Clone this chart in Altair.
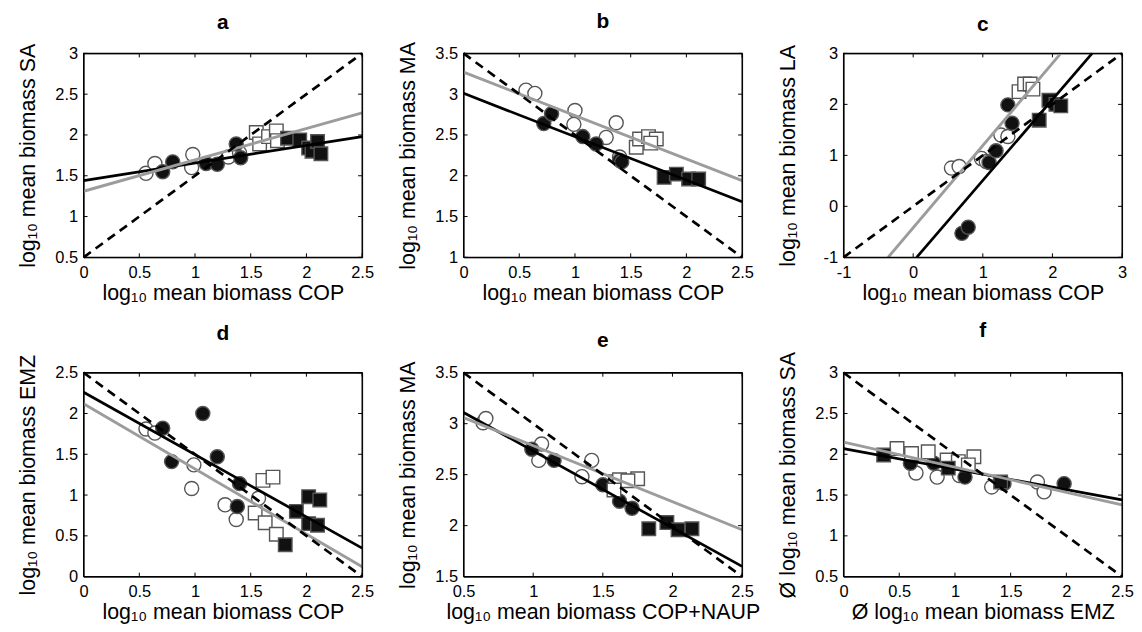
import altair as alt
import pandas as pd

FONT = "Liberation Sans"

# ---------------- data ----------------
# each marker series: (x values, y values)
A_OPEN_CIRCLES = ([0.56, 0.64, 0.98, 0.97, 1.30, 1.40], [1.53, 1.65, 1.76, 1.60, 1.73, 1.78])
A_FILLED_CIRCLES = ([0.71, 0.80, 1.10, 1.20, 1.37, 1.41], [1.55, 1.67, 1.65, 1.64, 1.89, 1.72])
A_OPEN_SQUARES = ([1.55, 1.58, 1.66, 1.73, 1.74], [2.03, 1.89, 1.98, 2.05, 1.93])
A_FILLED_SQUARES = ([1.83, 1.94, 2.02, 2.05, 2.10, 2.13], [1.96, 1.94, 1.84, 1.80, 1.92, 1.77])
A_BLACK = ([0.0, 2.5], [1.44, 1.98])
A_GRAY = ([0.0, 2.5], [1.31, 2.27])
A_DASHED = ([0.0, 2.5], [0.5, 3.0])

B_OPEN_CIRCLES = ([0.56, 0.64, 1.00, 0.99, 1.28, 1.37, 1.40], [3.05, 3.01, 2.80, 2.63, 2.47, 2.65, 2.23])
B_FILLED_CIRCLES = ([0.72, 0.79, 1.07, 1.19, 1.40, 1.42], [2.64, 2.76, 2.48, 2.39, 2.19, 2.17])
B_OPEN_SQUARES = ([1.55, 1.58, 1.66, 1.73, 1.68], [2.35, 2.45, 2.48, 2.45, 2.40])
B_FILLED_SQUARES = ([1.80, 1.91, 2.02, 2.11], [1.98, 2.02, 1.96, 1.96])
B_BLACK = ([0.0, 2.5], [3.01, 1.68])
B_GRAY = ([0.0, 2.5], [3.27, 1.94])
B_DASHED = ([0.0, 2.5], [3.5, 1.0])

C_OPEN_CIRCLES = ([0.55, 0.66, 0.98, 1.05, 1.26, 1.36], [0.75, 0.78, 0.94, 0.88, 1.40, 1.37])
C_FILLED_CIRCLES = ([0.70, 0.79, 1.09, 1.19, 1.36, 1.42], [-0.53, -0.41, 0.86, 1.09, 1.99, 1.63])
C_OPEN_SQUARES = ([1.52, 1.60, 1.68, 1.72], [2.25, 2.40, 2.40, 2.30])
C_FILLED_SQUARES = ([1.81, 1.95, 2.05, 2.12], [1.69, 2.08, 2.00, 1.97])
C_BLACK = ([0.05, 2.57], [-1.0, 3.0])
C_GRAY = ([-0.36, 2.12], [-1.0, 3.0])
C_DASHED = ([-1.0, 3.0], [-1.0, 3.0])

D_OPEN_CIRCLES = ([0.56, 0.64, 0.99, 0.97, 1.27, 1.37, 1.57], [1.81, 1.76, 1.37, 1.08, 0.88, 0.70, 0.96])
D_FILLED_CIRCLES = ([0.71, 0.79, 1.07, 1.20, 1.40, 1.38], [1.82, 1.41, 2.00, 1.47, 1.14, 0.86])
D_OPEN_SQUARES = ([1.61, 1.70, 1.54, 1.63, 1.73], [1.18, 1.22, 0.78, 0.66, 0.52])
D_FILLED_SQUARES = ([1.91, 2.02, 2.12, 2.02, 2.10, 1.81], [0.80, 0.98, 0.94, 0.65, 0.63, 0.39])
D_BLACK = ([0.0, 2.5], [2.26, 0.35])
D_GRAY = ([0.0, 2.5], [2.12, 0.12])
D_DASHED = ([0.0, 2.5], [2.5, 0.0])

E_OPEN_CIRCLES = ([0.64, 0.66, 1.06, 1.04, 1.35, 1.42], [3.01, 3.05, 2.80, 2.64, 2.48, 2.64])
E_FILLED_CIRCLES = ([0.99, 1.15, 1.50, 1.62, 1.71], [2.75, 2.64, 2.40, 2.24, 2.17])
E_OPEN_SQUARES = ([1.59, 1.62, 1.75, 1.58, 1.68], [2.43, 2.45, 2.46, 2.35, 2.44])
E_FILLED_SQUARES = ([1.83, 1.96, 2.04, 2.14], [1.97, 2.03, 1.96, 1.97])
E_BLACK = ([0.5, 2.5], [3.11, 1.60])
E_GRAY = ([0.5, 2.5], [3.06, 1.96])
E_DASHED = ([0.5, 2.5], [3.5, 1.5])

F_OPEN_CIRCLES = ([0.65, 0.84, 1.04, 1.33, 1.74, 1.80], [1.77, 1.72, 1.74, 1.60, 1.66, 1.54])
F_FILLED_CIRCLES = ([0.60, 0.81, 1.09, 1.44, 1.98], [1.89, 1.89, 1.72, 1.64, 1.64])
F_OPEN_SQUARES = ([0.48, 0.61, 0.76, 0.93, 1.03, 1.17, 1.12], [2.07, 2.01, 2.03, 1.93, 1.91, 1.97, 1.87])
F_FILLED_SQUARES = ([0.36, 0.94, 1.41], [1.99, 1.83, 1.66])
F_BLACK = ([0.0, 2.5], [2.07, 1.44])
F_GRAY = ([0.0, 2.5], [2.15, 1.38])
F_DASHED = ([0.0, 2.5], [3.0, 0.5])

TICKS_0_25 = [0, 0.5, 1, 1.5, 2, 2.5]
TICKS_05_3 = [0.5, 1, 1.5, 2, 2.5, 3]
TICKS_1_35 = [1, 1.5, 2, 2.5, 3, 3.5]
TICKS_M1_3 = [-1, 0, 1, 2, 3]
TICKS_05_25 = [0.5, 1, 1.5, 2, 2.5]
TICKS_15_35 = [1.5, 2, 2.5, 3, 3.5]

W, H = 280, 205
TICK_PX = 4


def df(series):
    return pd.DataFrame({"x": series[0], "y": series[1]})


def panel(letter, xdom, ydom, xticks, yticks, xtitle, ytitle,
          oc, fc, os_, fs, black, gray, dashed):
    xs = alt.Scale(domain=xdom, nice=False, zero=False)
    ys = alt.Scale(domain=ydom, nice=False, zero=False)
    common = dict(grid=False, domain=False, ticks=False, tickSize=0,
                  labelFontSize=16.5, labelFont=FONT,
                  labelColor="black", titleFont=FONT, titleFontSize=21.5,
                  titleFontWeight="normal", titleColor="black",
                  labelExpr="datum.value + ''", labelFlush=False, labelOverlap=False)
    xa = alt.Axis(values=xticks, title=xtitle, labelPadding=7, titlePadding=2, **common)
    ya = alt.Axis(values=yticks, title=ytitle, labelPadding=6, titlePadding=15,
                  minExtent=29, maxExtent=29, **common)
    X = alt.X("x:Q", scale=xs, axis=xa)
    Y = alt.Y("y:Q", scale=ys, axis=ya)

    def pts(series, shape, fill, size):
        return alt.Chart(df(series)).mark_point(
            shape=shape, filled=True, fill=fill, stroke="#555555", strokeWidth=1.4,
            size=size, opacity=1).encode(x=X, y=Y)

    def line(series, color, dash=None, width=2.7):
        kw = dict(color=color, strokeWidth=width)
        if dash:
            kw["strokeDash"] = dash
        return alt.Chart(df(series)).mark_line(**kw).encode(x=X, y=Y)

    # box frame and inward ticks, drawn as line paths along the scale domain
    x0, x1 = xdom
    y0, y1 = ydom
    tx = (x1 - x0) * TICK_PX / W
    ty = (y1 - y0) * TICK_PX / H
    frame_df = pd.DataFrame({"x": [x0, x1, x1, x0, x0], "y": [y0, y0, y1, y1, y0],
                             "i": [0, 1, 2, 3, 4]})
    frame = alt.Chart(frame_df).mark_line(color="#000000", strokeWidth=1.2).encode(
        x=X, y=Y, order="i:Q")
    rows = []
    for k, v in enumerate(xticks):
        rows += [("b%d" % k, v, y0, 0), ("b%d" % k, v, y0 + ty, 1),
                 ("t%d" % k, v, y1, 0), ("t%d" % k, v, y1 - ty, 1)]
    for k, v in enumerate(yticks):
        rows += [("l%d" % k, x0, v, 0), ("l%d" % k, x0 + tx, v, 1),
                 ("r%d" % k, x1, v, 0), ("r%d" % k, x1 - tx, v, 1)]
    tick_df = pd.DataFrame(rows, columns=["seg", "x", "y", "i"])
    ticks = alt.Chart(tick_df).mark_line(color="#000000", strokeWidth=1).encode(
        x=X, y=Y, detail="seg:N", order="i:Q")

    layers = [
        pts(oc, "circle", "white", 200),
        pts(fc, "circle", "#111111", 200),
        pts(os_, "square", "white", 185),
        pts(fs, "square", "#111111", 185),
        line(black, "black"),
        line(gray, "#9c9c9c", width=2.9),
        line(dashed, "black", dash=[9, 6]),
        ticks,
        frame,
    ]
    return alt.layer(*layers).properties(
        width=W, height=H,
        title=alt.TitleParams(letter, font=FONT, fontSize=21, fontWeight="bold",
                              color="black", anchor="middle", offset=10))


L = "log\u2081\u2080 mean biomass "
pa = panel("a", [0, 2.5], [0.5, 3], TICKS_0_25, TICKS_05_3, L + "COP", L + "SA",
           A_OPEN_CIRCLES, A_FILLED_CIRCLES, A_OPEN_SQUARES, A_FILLED_SQUARES,
           A_BLACK, A_GRAY, A_DASHED)
pb = panel("b", [0, 2.5], [1, 3.5], TICKS_0_25, TICKS_1_35, L + "COP", L + "MA",
           B_OPEN_CIRCLES, B_FILLED_CIRCLES, B_OPEN_SQUARES, B_FILLED_SQUARES,
           B_BLACK, B_GRAY, B_DASHED)
pc = panel("c", [-1, 3], [-1, 3], TICKS_M1_3, TICKS_M1_3, L + "COP", L + "LA",
           C_OPEN_CIRCLES, C_FILLED_CIRCLES, C_OPEN_SQUARES, C_FILLED_SQUARES,
           C_BLACK, C_GRAY, C_DASHED)
pd_ = panel("d", [0, 2.5], [0, 2.5], TICKS_0_25, TICKS_0_25, L + "COP", L + "EMZ",
            D_OPEN_CIRCLES, D_FILLED_CIRCLES, D_OPEN_SQUARES, D_FILLED_SQUARES,
            D_BLACK, D_GRAY, D_DASHED)
pe = panel("e", [0.5, 2.5], [1.5, 3.5], TICKS_05_25, TICKS_15_35, L + "COP+NAUP", L + "MA",
           E_OPEN_CIRCLES, E_FILLED_CIRCLES, E_OPEN_SQUARES, E_FILLED_SQUARES,
           E_BLACK, E_GRAY, E_DASHED)
pf = panel("f", [0, 2.5], [0.5, 3], TICKS_0_25, TICKS_05_3, "\u00d8 " + L + "EMZ",
           "\u00d8 " + L + "SA",
           F_OPEN_CIRCLES, F_FILLED_CIRCLES, F_OPEN_SQUARES, F_FILLED_SQUARES,
           F_BLACK, F_GRAY, F_DASHED)

chart = alt.concat(pa, pb, pc, pd_, pe, pf, columns=3,
                   spacing={"row": 116, "column": 102}, bounds="flush").properties(
    padding={"left": 9, "top": 0, "right": 0, "bottom": 0},
    background="white"
).configure_view(stroke="#000000", strokeWidth=1)

chart.save("out.html", embed_options={"renderer": "svg", "actions": False})
